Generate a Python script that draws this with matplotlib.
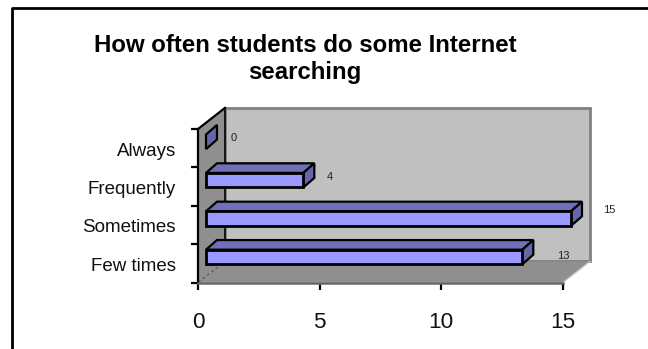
import matplotlib
matplotlib.use("Agg")
import matplotlib.pyplot as plt
from matplotlib.lines import Line2D
from matplotlib.patches import Polygon

categories = ["Few times", "Sometimes", "Frequently", "Always"]
values = [13, 15, 4, 0]
value_ticks = [0, 5, 10, 15]

W, H = 648, 349
plt.rcParams["font.family"] = ["Liberation Sans", "DejaVu Sans"]

fig = plt.figure(figsize=(W / 100, H / 100), dpi=100)
ax = fig.add_axes([198 / W, 1 - 282.5 / H, 365 / W, 153.5 / H])
ax.set_xlim(0, 15)
ax.set_ylim(0, 4)
ax.patch.set_visible(False)

# depth of the fake 3d box and of the bars, in data units
dx, dy = 1.11, 0.55
bdx, bdy = 0.45, 0.25
start = 0.33
bar_h = 0.38
shift = 0.666

def poly(pts, fc, ec="black", lw=1.6, z=3):
    ax.add_patch(Polygon(pts, closed=True, fc=fc, ec=ec, lw=lw, zorder=z, clip_on=False, joinstyle="miter"))

# walls
poly([(dx, dy), (15 + dx, dy), (15 + dx, 4 + dy), (dx, 4 + dy)], "#c0c0c0", "#808080", 2, 1)
poly([(0, 0), (dx, dy), (15 + dx, dy), (15, 0)], "#8f8f8f", "none", 0, 1)
poly([(0, 0), (dx, dy), (dx, 4 + dy), (0, 4)], "#8f8f8f", "none", 0, 1)
ax.plot([dx, dx], [dy, 4 + dy], color="black", lw=1.2, zorder=2, clip_on=False)
ax.plot([0, dx], [4, 4 + dy], color="black", lw=1.6, zorder=2, clip_on=False)
ax.plot([0, dx], [0, dy], color="#555555", lw=0.8, ls=(0, (3, 2)), zorder=2, clip_on=False)
ax.plot([15, 15 + dx], [0, dy], color="#c8c8c8", lw=1, zorder=2, clip_on=False)

for i, v in enumerate(values):
    y0 = i + shift - bar_h / 2
    y1 = i + shift + bar_h / 2
    x1 = start + v
    if v > 0:
        poly([(start, y1), (start + bdx, y1 + bdy), (x1 + bdx, y1 + bdy), (x1, y1)], "#7070b8")
    poly([(x1, y0), (x1 + bdx, y0 + bdy), (x1 + bdx, y1 + bdy), (x1, y1)], "#6666aa")
    if v > 0:
        ax.barh(i + shift, v, left=start, height=bar_h, color="#9999ff", edgecolor="black", lw=2, zorder=4, clip_on=False)

label_x = [14.75, 16.63, 5.29, 1.35]
label_y = [0.69, 1.89, 2.75, 3.76]
for i, v in enumerate(values):
    ax.text(label_x[i], label_y[i], str(v), fontsize=8, color="#222222", ha="left", va="center")

for s in ax.spines.values():
    s.set_visible(False)
ax.spines["left"].set_visible(True)
ax.spines["left"].set_linewidth(1.6)
ax.spines["left"].set_zorder(5)
ax.spines["bottom"].set_visible(True)
ax.spines["bottom"].set_linewidth(1.8)
ax.spines["bottom"].set_color("#666666")
ax.spines["bottom"].set_zorder(5)
ax.set_xticks(value_ticks)
ax.set_yticks(range(5))
ax.set_yticklabels([])
ax.tick_params(axis="both", length=5, width=1.6, direction="out")
ax.tick_params(axis="x", labelsize=16.2, pad=16, labelcolor="#111111")

base_y = [270.7, 232, 194, 156]
for i, c in enumerate(categories):
    fig.text(176 / W, 1 - base_y[i] / H, c, fontsize=13.5, ha="right", va="baseline", color="#111111")

fig.text(305 / W, 1 - 52 / H, "How often students do some Internet", fontsize=17.3, fontweight="bold", ha="center", va="baseline")
fig.text(305 / W, 1 - 79 / H, "searching", fontsize=17.3, fontweight="bold", ha="center", va="baseline")

# outer frame, only top and left are inside the picture
fig.add_artist(Line2D([12 / W, 12 / W, 1], [0, 1 - 7.5 / H, 1 - 7.5 / H], transform=fig.transFigure, color="black", lw=2))

fig.savefig("out.png", dpi=100)
